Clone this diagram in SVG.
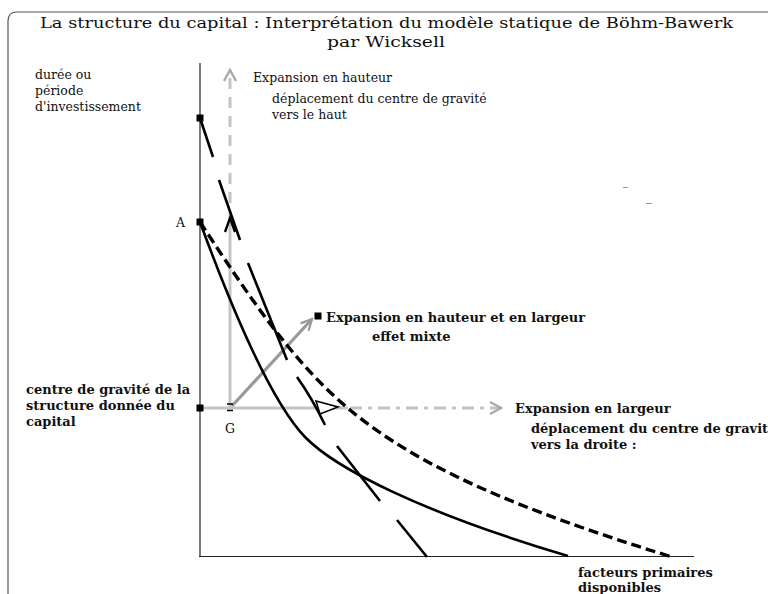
<svg xmlns="http://www.w3.org/2000/svg" width="768" height="594" viewBox="0 0 768 594">
<defs>
<style>
.t{font-family:"DejaVu Serif","Liberation Serif",serif;font-size:12.5px;fill:#111;}
.b{font-weight:bold;font-size:13px;}
.title{font-family:"DejaVu Serif","Liberation Serif",serif;font-size:15px;fill:#111;}
.blk{stroke:#000;stroke-width:2.6;fill:none;stroke-linecap:butt;}
.axis{stroke:#222;stroke-width:1.2;fill:none;}
.gl{stroke:#c4c4c4;stroke-width:3;fill:none;}
.sq{fill:#000;}
</style>
<marker id="chev" viewBox="0 0 14 14" refX="12" refY="7" markerWidth="14" markerHeight="14" markerUnits="userSpaceOnUse" orient="auto">
<path d="M1,1 L12,7 L1,13" fill="none" stroke="#aaa" stroke-width="2.4"/>
</marker>
<marker id="chev2" viewBox="0 0 14 14" refX="12" refY="7" markerWidth="14" markerHeight="14" markerUnits="userSpaceOnUse" orient="auto">
<path d="M1,1.5 L12,7 L1,12.5" fill="none" stroke="#999" stroke-width="2.2"/>
</marker>
</defs>
<rect width="768" height="594" fill="#fff"/>
<path d="M8,620 L8,21 Q8,12 17,12 L790,12" fill="none" stroke="#555" stroke-width="1.2"/>
<g id="title">
<text class="title" x="40" y="28" textLength="693" lengthAdjust="spacingAndGlyphs">La structure du capital : Interprétation du modèle statique de Böhm-Bawerk</text>
<text class="title" x="327" y="47" textLength="118" lengthAdjust="spacingAndGlyphs">par Wicksell</text>
</g>
<g id="axes">
<line class="axis" x1="200" y1="63" x2="200" y2="557"/>
<line class="axis" x1="199" y1="556.5" x2="694" y2="556.5"/>
</g>
<g id="connectors">
<line class="gl" x1="230" y1="408" x2="230" y2="223"/>
<line x1="230" y1="222" x2="230" y2="70" stroke="#c4c4c4" stroke-width="3" stroke-dasharray="11 8" marker-end="url(#chev)"/>
<line class="gl" x1="201" y1="408" x2="348" y2="408"/>
<line x1="350" y1="408" x2="501" y2="408" stroke="#c4c4c4" stroke-width="3" stroke-dasharray="12 6 4 6" marker-end="url(#chev)"/>
<line x1="232" y1="406" x2="312" y2="319" stroke="#999" stroke-width="3.2" marker-end="url(#chev2)"/>
<path class="blk" d="M200,222 C222,282 265,395 305,437 C335,468 420,512 568,556"/>
<path d="M200,222 C245,290 290,360 350,410 C420,468 520,510 672,557" fill="none" stroke="#000" stroke-width="3.4" stroke-dasharray="10 5"/>
<path class="blk" d="M200,118 L213,157 M219,180 L240,240 M248,263 L287,360 M297,377 Q312,398 325,425 M337,446 L380,501 M397,520 L427,557"/>
<path d="M225,232 L230,218 L235,232" fill="none" stroke="#000" stroke-width="2.4"/>
<polygon points="316,401 338,407 320,414" fill="#fff" stroke="#000" stroke-width="1.6"/>
<path d="M227,404 h6 M227,410.5 h6" stroke="#000" stroke-width="1.6"/>
</g>
<g id="points">
<rect class="sq" x="196.5" y="114.5" width="7" height="7"/>
<rect class="sq" x="196.5" y="218.5" width="7" height="7"/>
<rect class="sq" x="196.5" y="404.5" width="7" height="7"/>
<rect class="sq" x="314.5" y="312.5" width="7" height="7"/>
</g>
<g id="labels">
<text class="t" x="35" y="79">durée ou</text>
<text class="t" x="35" y="95">période</text>
<text class="t" x="35" y="111">d'investissement</text>
<text class="t" x="253" y="82">Expansion en hauteur</text>
<text class="t" x="272" y="103">déplacement du centre de gravité</text>
<text class="t" x="272" y="119">vers le haut</text>
<text class="t" x="176" y="227">A</text>
<text class="t b" x="26" y="394">centre de gravité de la</text>
<text class="t b" x="26" y="410">structure donnée du</text>
<text class="t b" x="26" y="426">capital</text>
<text class="t" x="225" y="433">G</text>
<text class="t b" x="326" y="322">Expansion en hauteur et en largeur</text>
<text class="t b" x="372" y="341">effet mixte</text>
<text class="t b" x="515" y="413">Expansion en largeur</text>
<text class="t b" x="531" y="433">déplacement du centre de gravité</text>
<text class="t b" x="531" y="449">vers la droite :</text>
<text class="t b" x="578" y="577">facteurs primaires</text>
<text class="t b" x="578" y="592">disponibles</text>
</g>
<path d="M623,187.5 h5 M646,203.5 h6" stroke="#999" stroke-width="1.2"/>
</svg>
